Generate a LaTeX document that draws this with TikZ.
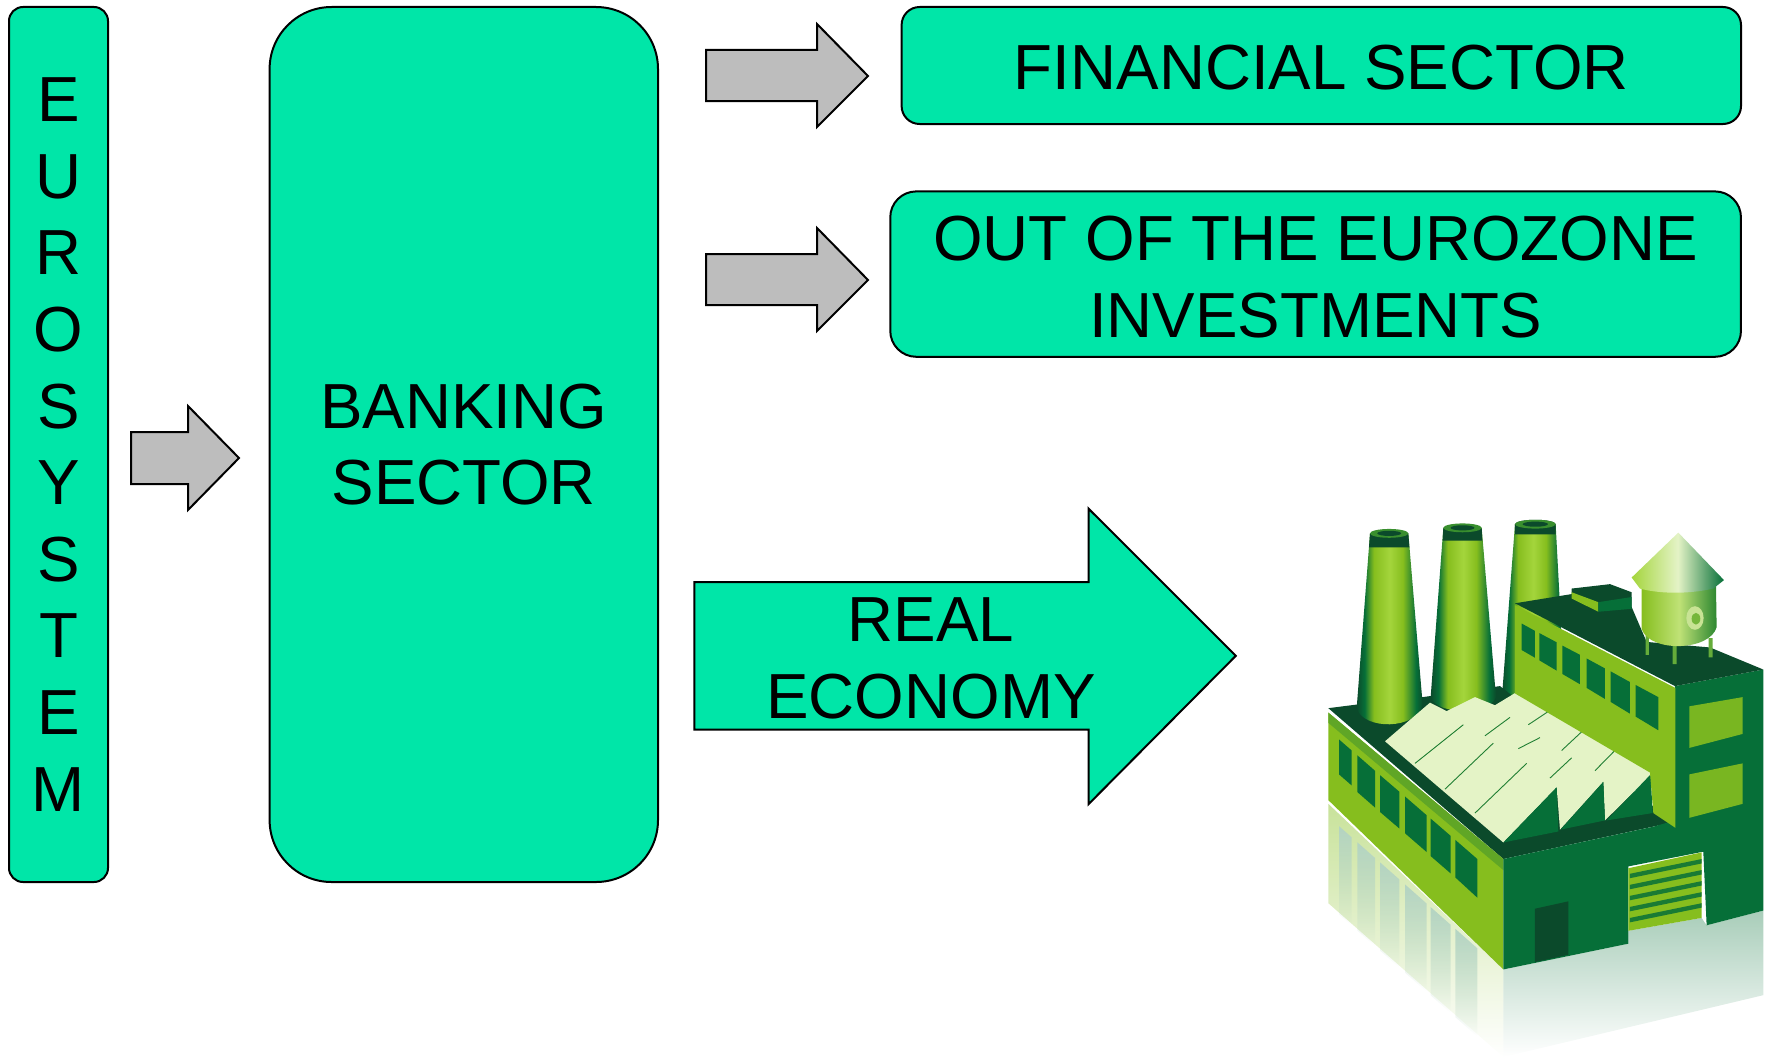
\documentclass[tikz,border=0pt]{standalone}
\usepackage{fontspec}
\setmainfont{Liberation Sans}
\usetikzlibrary{fadings}
\definecolor{teal1}{HTML}{00E6A8}
\definecolor{gray1}{HTML}{BDBDBD}
\definecolor{fdark}{HTML}{0B4A2B}
\definecolor{fmid}{HTML}{066F38}
\definecolor{flime}{HTML}{86BE1E}
\definecolor{flight}{HTML}{A4D53C}
\definecolor{froof}{HTML}{E4F3C6}
\pgfdeclarehorizontalshading{chim}{100bp}{color(0bp)=(fdark); color(25bp)=(fdark); color(31bp)=(fmid); color(38bp)=(flime); color(50bp)=(flight); color(60bp)=(flime); color(70bp)=(fmid); color(75bp)=(fdark); color(100bp)=(fdark)}
\tikzset{
  tealbox/.style={draw=black,line width=2pt,fill=teal1,inner sep=0pt,align=center,font=\fontsize{63.7}{76.6}\selectfont},
  grayarrow/.style={draw=black,line width=2pt,fill=gray1,line join=miter},
  realarrow/.style={draw=black,line width=2pt,fill=teal1,line join=miter},
  lbl/.style={inner sep=0pt,align=center,font=\fontsize{63.7}{76.6}\selectfont},
  fwin/.style={fill=fmid},
  fline/.style={draw=fmid!80!flime,line width=0.9pt},
}
\begin{document}
\begin{tikzpicture}[x=1pt,y=-1pt]
\useasboundingbox (0,0) rectangle (1776,1057);
% boxes
\node[tealbox,rounded corners=14pt,minimum width=99pt,minimum height=875pt] (euro) at (58.5,444.5)
  {E\\U\\R\\O\\S\\Y\\S\\T\\E\\M};
\node[tealbox,rounded corners=62pt,minimum width=388.4pt,minimum height=875pt] (bank) at (463.8,444.5) {BANKING\\SECTOR};
\node[tealbox,rounded corners=18pt,minimum width=839.4pt,minimum height=117pt] (fin) at (1321.3,65.5) {\rule{0pt}{49.5pt}FINANCIAL SECTOR};
\node[tealbox,rounded corners=26pt,minimum width=850.7pt,minimum height=165.4pt] (out) at (1315.6,274.1) {\rule{0pt}{51pt}OUT OF THE EUROZONE\\INVESTMENTS};
% gray block arrows
\draw[grayarrow] (131,432)--(188,432)--(188,406)--(239,458)--(188,510)--(188,484)--(131,484)--cycle;
\draw[grayarrow] (706,50)--(817,50)--(817,24)--(868,76)--(817,127)--(817,101)--(706,101)--cycle;
\draw[grayarrow] (706,254)--(817,254)--(817,228)--(868,280)--(817,331)--(817,305)--(706,305)--cycle;
% real economy arrow
\draw[realarrow] (694.3,582.2)--(1088.5,582.2)--(1088.5,508.6)--(1235.8,655.8)--(1088.5,804.2)--(1088.5,729.5)--(694.3,729.5)--cycle;
\node[lbl] (real) at (931,658.5) {REAL\\ECONOMY};
% factory
\begin{scope}[shift={(1270,480)},x=0.3333pt,y=-0.368pt]
  % reflection
  \fill[flime!45!white,path fading=south] (175,880)--(700,1330)--(700,1568)--(175,1150)--cycle;
  \foreach \a/\b in {207/245,262/315,330/388,405/470,482/542,556/622}{
    \fill[fmid!30!white,path fading=south] (\a,940+\a*0.8-165)--(\b,940+\b*0.8-165)--(\b,1180+\b*0.8-165)--(\a,1180+\a*0.8-165)--cycle;}
  \fill[fmid!35!white,path fading=south] (700,1330)--(1075,1260)--(1075,1225)--(1295,1190)--(1310,1210)--(1480,1170)--(1480,1400)--(700,1568)--cycle;
  % rear chimney
  \shade[shading=chim] (735,120)--(857,120)--(885,600)--(695,600)--cycle;
  \fill[fdark] (735,120) arc[start angle=180,end angle=360,x radius=61,y radius=12] -- (857,148) -- (735,148) -- cycle;
  \fill[fmid!60!flime] (796,120) ellipse[x radius=61,y radius=12];
  \fill[fdark] (796,120) ellipse[x radius=38,y radius=7];
  % low building roof
  \fill[fdark] (175,620)--(262,610)--(458,590)--(690,560)--(1210,930)--(700,1030)--cycle;
  % front chimneys
  \shade[shading=chim] (520,130)--(635,130)--(678,590) .. controls (660,640) and (500,640) .. (482,590)--cycle;
  \fill[fdark] (520,130) -- (635,130) -- (637,165) -- (518,165) -- cycle;
  \fill[fmid!60!flime] (577.5,130) ellipse[x radius=57.5,y radius=12];
  \fill[fdark] (577.5,130) ellipse[x radius=36,y radius=7];
  \shade[shading=chim] (300,145)--(415,145)--(458,610) .. controls (440,680) and (280,680) .. (260,620)--cycle;
  \fill[fdark] (300,145) -- (415,145) -- (418,183) -- (297,183) -- cycle;
  \fill[fmid!60!flime] (357.5,145) ellipse[x radius=57.5,y radius=12];
  \fill[fdark] (357.5,145) ellipse[x radius=36,y radius=7];
  % saw-tooth roof
  \fill[froof] (345,710)--(480,605)--(530,628)--(615,590)--(675,612)--(755,568)--(1140,795)--(1145,800)--(1005,925)--(1000,820)--(870,950)--(860,835)--(700,985)--cycle;
  \fill[fmid] (700,985)--(860,835)--(865,955)--cycle;
  \fill[fmid] (872,950)--(1000,820)--(1005,925)--cycle;
  \fill[fmid] (1010,925)--(1142,800)--(1148,905)--cycle;
  \draw[fline] (435,770)--(580,665) (645,695)--(720,645) (525,840)--(670,715) (745,730)--(810,700)
    (615,905)--(770,770) (775,665)--(850,620) (840,810)--(905,755) (875,735)--(940,680) (975,790)--(1040,730);
  % left wall
  \fill[flime] (175,632)--(700,1030)--(700,1330)--(175,870)--cycle;
  \fill[flime!70!fmid] (175,632)--(700,1030)--(700,1060)--(175,660)--cycle;
  \fill[fwin] (207,705)--(245,735)--(245,830)--(207,800)--cycle;
  \fill[fwin] (262,748)--(315,790)--(315,890)--(262,848)--cycle;
  \fill[fwin] (330,802)--(388,847)--(388,947)--(330,902)--cycle;
  \fill[fwin] (405,860)--(470,911)--(470,1011)--(405,960)--cycle;
  \fill[fwin] (482,920)--(542,967)--(542,1069)--(482,1022)--cycle;
  \fill[fwin] (556,978)--(622,1030)--(622,1135)--(556,1080)--cycle;
  % front wall
  \fill[fmid] (700,1030)--(1150,942)--(1215,925)--(1215,560)--(1480,515)--(1480,1170)--(1310,1210)--(1300,1010)--(1075,1050)--(1075,1260)--(700,1330)--cycle;
  % loading door
  \fill[flime] (1075,1055)--(1295,1012)--(1295,1190)--(1075,1225)--cycle;
  \foreach \yy in {0,30,60,90,120}{
    \fill[fmid!85!flime] (1080,1070+\yy)--(1295,1030+\yy)--(1295,1042+\yy)--(1080,1082+\yy)--cycle;}
  \fill[fdark] (795,1165)--(895,1145)--(895,1290)--(795,1310)--cycle;
  % right wall panels
  \fill[flime!90!fmid] (1258,615)--(1418,590)--(1418,690)--(1258,728)--cycle;
  \fill[flime!90!fmid] (1258,800)--(1418,770)--(1418,880)--(1258,918)--cycle;
  % upper building side wall
  \fill[flime] (735,340)--(1216,565)--(1216,945)--(1150,905)--(1140,795)--(735,580)--cycle;
  \fill[fwin] (755,390)--(795,410)--(795,483)--(755,462)--cycle;
  \fill[fwin] (808,416)--(860,441)--(860,518)--(808,490)--cycle;
  \fill[fwin] (877,450)--(930,475)--(930,555)--(877,527)--cycle;
  \fill[fwin] (950,485)--(1005,512)--(1005,595)--(950,565)--cycle;
  \fill[fwin] (1022,520)--(1080,549)--(1080,635)--(1022,603)--cycle;
  \fill[fwin] (1097,557)--(1165,590)--(1165,680)--(1097,643)--cycle;
  % upper roof
  \fill[fdark] (735,335)--(905,310)--(1085,345)--(1130,440)--(1320,455)--(1480,515)--(1215,560)--cycle;
  % vent
  \fill[fdark] (905,295)--(1020,283)--(1085,305)--(1085,350)--(985,358)--(905,320)--cycle;
  \fill[flime] (905,305)--(985,332)--(985,358)--(905,322)--cycle;
  \fill[fmid] (985,332)--(1085,318)--(1085,350)--(985,358)--cycle;
  % silo
  \fill[flight!60!fmid] (1127,420) rectangle (1137,475) (1208,440) rectangle (1220,500) (1316,430) rectangle (1328,482);
  \shade[left color=flime,right color=fmid!70!flime,middle color=flight!70!white] (1115,285)--(1338,285)--(1340,400) .. controls (1320,465) and (1140,470) .. (1115,405)--cycle;
  \shade[left color=flight,right color=fmid,middle color=froof] (1225,143)--(1362,272)--(1330,295) .. controls (1260,310) and (1170,310) .. (1110,295)--(1085,265)--cycle;
  \fill[froof!70!flime] (1275,375) ellipse[x radius=26,y radius=32];
  \fill[flight!70!fmid] (1278,377) ellipse[x radius=13,y radius=16];
\end{scope}
\end{tikzpicture}
\end{document}
